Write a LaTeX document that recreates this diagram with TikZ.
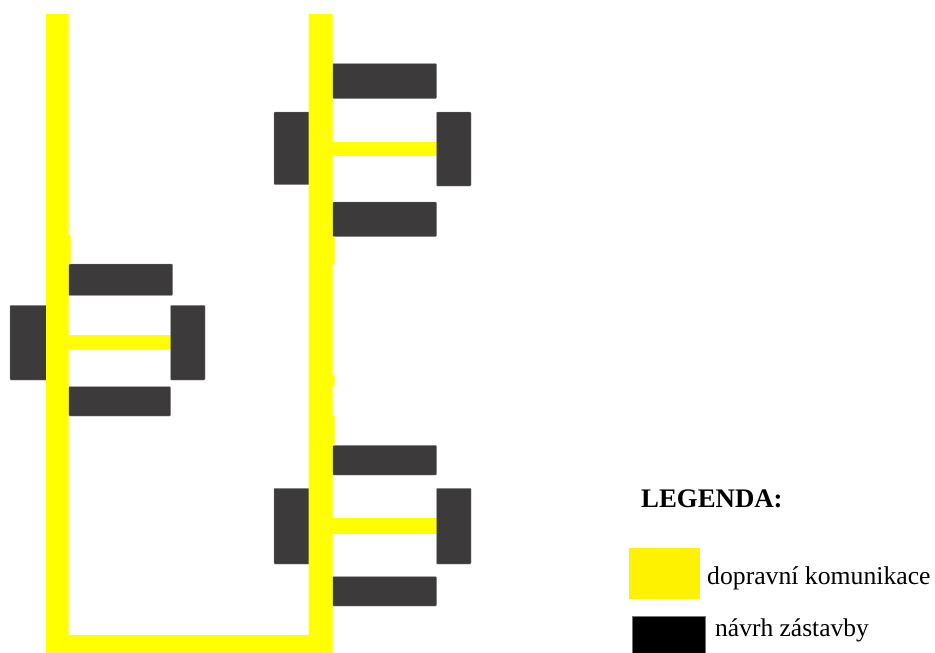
\documentclass[tikz,border=0pt]{standalone}
\usepackage{fontspec}
\setmainfont{Liberation Serif}
\definecolor{road}{HTML}{FFFF00}
\definecolor{legroad}{HTML}{FFF200}
\definecolor{build}{HTML}{3C3A3B}
\tikzset{
  roadfill/.style={fill=road},
  buildfill/.style={fill=build,draw=build!60!white,line width=0.4pt,rounded corners=0.8pt},
  legtext/.style={anchor=base west,inner sep=0pt,text=black,font=\fontsize{25.7}{30}\selectfont},
  legtextb/.style={anchor=base west,inner sep=0pt,text=black,font=\fontsize{25.5}{30}\selectfont},
  legtitle/.style={anchor=base west,inner sep=0pt,text=black,font=\fontsize{26.8}{30}\selectfont\bfseries}
}
\begin{document}
\begin{tikzpicture}[x=1pt,y=-1pt]
\useasboundingbox (0,0) rectangle (935,653);
% roads: side streets run under the buildings
\fill[roadfill] (68,335) rectangle (171,348.7);
\fill[roadfill] (332,141.5) rectangle (437,155.5);
\fill[roadfill] (332,518) rectangle (437,533.5);
% buildings: left group
\path[buildfill] (68.7,264) rectangle (172.5,295.3);
\path[buildfill] (68.7,386.7) rectangle (170.5,416);
\path[buildfill] (10,305.3) rectangle (47,380);
\path[buildfill] (170.5,305.3) rectangle (205,380);
% buildings: upper right group
\path[buildfill] (332.7,63.5) rectangle (436.5,98.5);
\path[buildfill] (332.7,202) rectangle (436.5,236.5);
\path[buildfill] (274,112) rectangle (310,184.5);
\path[buildfill] (436.5,112) rectangle (471,186);
% buildings: lower right group
\path[buildfill] (332.7,445.3) rectangle (436.5,475);
\path[buildfill] (332.7,576.7) rectangle (436.5,606);
\path[buildfill] (274,488.3) rectangle (310,564);
\path[buildfill] (436.5,488.3) rectangle (471,564);
% main road
\fill[roadfill] (46,14) -- (68.7,14) -- (68.7,235) -- (70.5,235) -- (70.5,264) -- (68.7,264) -- (68.7,635)
  -- (308.7,635) -- (308.7,14) -- (332.7,14) -- (332.7,236.5) -- (334.5,236.5) -- (334.5,264) -- (332.7,264)
  -- (332.7,376) -- (334.5,376) -- (334.5,386) -- (332.7,386) -- (332.7,416) -- (334.5,416) -- (334.5,445.3) -- (332.7,445.3)
  -- (332.7,653) -- (46,653) -- cycle;
% legend
\fill[legroad] (629,547.7) rectangle (700,599.3);
\path[fill=black,draw=black!55!white,line width=0.5pt] (632.5,616.7) rectangle (705,660);
\node[legtitle] (title) at (641,507) {LEGENDA:};
\node[legtext] (roadlabel) at (707,584) {dopravní komunikace};
\node[legtextb] (buildlabel) at (715,636) {návrh zástavby};
\end{tikzpicture}
\end{document}
